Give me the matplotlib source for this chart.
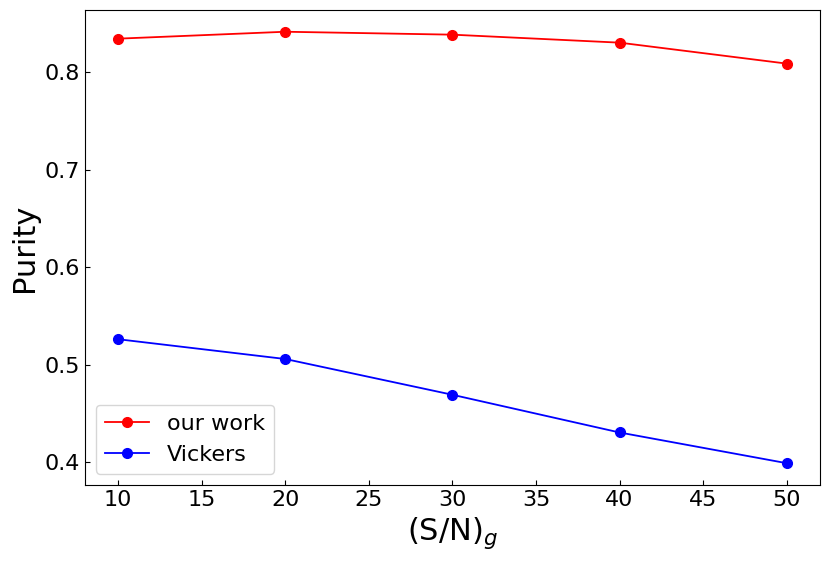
import matplotlib
matplotlib.use('Agg')
import matplotlib.pyplot as plt

# data
sn_g = [10, 20, 30, 40, 50]
purity_ours = [0.8346, 0.8417, 0.8387, 0.8305, 0.809]
purity_vickers = [0.5262, 0.5059, 0.4692, 0.4305, 0.399]

fig, ax = plt.subplots(figsize=(8.31, 5.65), dpi=100)
ax.plot(sn_g, purity_ours, 'o-', color='red', label='our work', lw=1.3, ms=7)
ax.plot(sn_g, purity_vickers, 'o-', color='blue', label='Vickers', lw=1.3, ms=7)

ax.set_xlabel('(S/N)$_g$', fontsize=22)
ax.set_ylabel('Purity', fontsize=22)
ax.set_xticks([10, 15, 20, 25, 30, 35, 40, 45, 50])
ax.set_yticks([0.4, 0.5, 0.6, 0.7, 0.8])
ax.set_yticklabels(['0.4', '0.5', '0.6', '0.7', '0.8'])
ax.tick_params(direction='in', labelsize=16)
ax.legend(loc='lower left', fontsize=16)

plt.subplots_adjust(left=0.102, right=0.987, top=0.982, bottom=0.142)
plt.savefig('out.png')
